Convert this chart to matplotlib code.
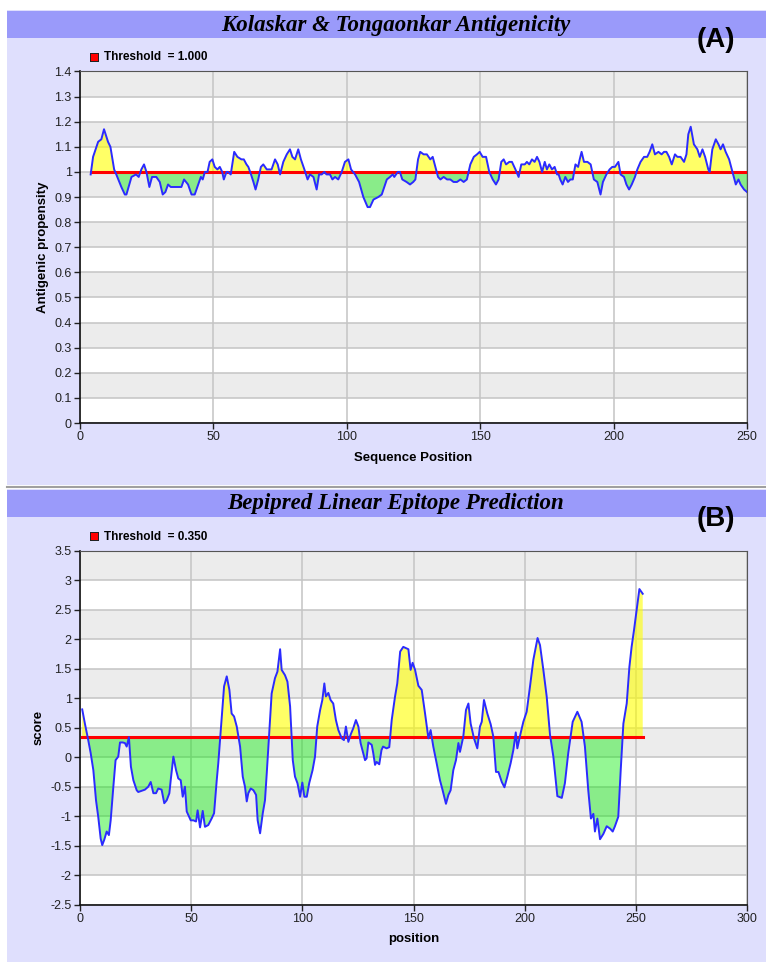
import numpy as np
import matplotlib
matplotlib.use("Agg")
import matplotlib.pyplot as plt
from matplotlib.patches import Rectangle
from matplotlib.ticker import FuncFormatter

W, H = 766, 963

# Kolaskar & Tongaonkar antigenic propensity along the sequence
kt_pos = [4.0, 4.9, 6.8, 8.0, 9.0, 10.5, 11.4, 12.8, 13.6, 15.5, 16.8, 17.4, 19.3, 21.0,
          22.0, 23.0, 24.0, 24.9, 26.0, 27.0, 28.6, 29.9, 31.0, 32.0, 33.0, 34.0, 36.8,
          38.0, 39.0, 40.5, 41.8, 43.0, 44.3, 45.3, 46.0, 46.8, 47.8, 48.6, 49.6, 50.5,
          51.5, 52.4, 53.3, 53.9, 54.9, 55.5, 56.5, 57.8, 59.0, 60.5, 61.4, 62.4, 63.1,
          64.1, 65.0, 65.8, 66.8, 67.8, 68.7, 70.0, 71.8, 73.1, 74.1, 75.0, 76.2, 77.5,
          78.7, 79.6, 80.6, 81.8, 82.8, 84.1, 85.3, 86.2, 87.5, 88.7, 89.6, 90.6, 91.6,
          92.4, 93.7, 94.6, 95.6, 96.8, 98.1, 99.3, 100.6, 101.6, 103.1, 104.6, 106.2,
          107.8, 108.7, 110.0, 111.8, 113.1, 115.0, 116.2, 117.2, 117.8, 119.1, 119.9,
          120.8, 122.4, 123.7, 124.9, 125.7, 126.7, 127.5, 128.8, 130.0, 131.3, 132.2,
          133.2, 134.2, 135.1, 136.3, 137.6, 138.8, 140.0, 141.3, 142.6, 143.8, 145.0,
          146.3, 147.6, 148.8, 149.8, 150.9, 152.2, 153.4, 154.7, 155.9, 156.9, 157.9,
          158.8, 159.7, 160.9, 161.9, 163.2, 164.4, 165.4, 166.7, 167.5, 168.4, 169.4,
          170.4, 171.3, 172.2, 173.2, 174.2, 175.0, 175.9, 176.9, 177.9, 178.8, 179.4,
          180.0, 180.9, 181.9, 182.9, 183.8, 184.7, 185.7, 186.7, 187.3, 188.0, 188.9,
          190.2, 191.4, 192.6, 193.9, 195.1, 196.0, 197.3, 198.5, 199.5, 200.5, 201.8,
          202.6, 203.9, 204.8, 205.8, 206.8, 208.0, 208.9, 210.1, 211.4, 212.6, 213.5,
          214.5, 215.5, 216.8, 218.0, 218.9, 219.8, 220.8, 221.8, 223.0, 223.9, 225.1,
          226.4, 227.3, 228.0, 228.9, 230.1, 231.4, 232.3, 233.3, 234.3, 235.5, 236.0,
          237.0, 238.3, 239.3, 240.1, 241.0, 242.0, 243.3, 244.8, 245.8, 246.8, 247.6,
          248.9, 250.0]
kt_score = [0.99, 1.06, 1.12, 1.13, 1.17, 1.12, 1.10, 1.01, 0.99, 0.94, 0.91, 0.91, 0.98, 0.99,
            0.98, 1.01, 1.03, 1.00, 0.94, 0.98, 0.98, 0.96, 0.91, 0.92, 0.95, 0.94, 0.94,
            0.94, 0.97, 0.95, 0.91, 0.91, 0.95, 0.98, 0.97, 1.00, 1.00, 1.04, 1.05, 1.02,
            1.01, 1.02, 1.00, 0.97, 1.00, 1.00, 0.99, 1.08, 1.06, 1.05, 1.05, 1.03, 1.02,
            0.99, 0.96, 0.93, 0.97, 1.02, 1.03, 1.01, 1.01, 1.05, 1.03, 0.99, 1.04, 1.07,
            1.09, 1.06, 1.05, 1.09, 1.05, 1.01, 0.97, 0.99, 0.98, 0.93, 0.99, 0.99, 1.00,
            0.99, 0.99, 0.97, 0.98, 0.97, 1.00, 1.04, 1.05, 1.01, 0.99, 0.96, 0.90,
            0.86, 0.86, 0.89, 0.90, 0.91, 0.97, 0.98, 0.99, 0.98, 1.00, 1.00,
            0.97, 0.96, 0.95, 0.96, 0.97, 1.05, 1.08, 1.07, 1.07, 1.05, 1.06,
            1.02, 0.98, 0.97, 0.98, 0.97, 0.97, 0.96, 0.96, 0.97, 0.96, 0.97,
            1.03, 1.06, 1.07, 1.08, 1.06, 1.06, 1.00, 0.97, 0.95, 0.97, 1.04,
            1.05, 1.03, 1.04, 1.04, 1.01, 0.98, 1.03, 1.03, 1.04, 1.03, 1.05,
            1.04, 1.06, 1.04, 1.00, 1.04, 1.01, 1.03, 1.01, 1.02, 0.99, 0.99,
            0.97, 0.95, 0.98, 0.96, 0.97, 0.97, 1.03, 1.02, 1.05, 1.08, 1.04,
            1.04, 1.03, 0.97, 0.96, 0.91, 0.96, 0.99, 1.01, 1.02, 1.02, 1.04,
            0.99, 0.98, 0.95, 0.93, 0.95, 0.98, 1.01, 1.04, 1.06, 1.06, 1.08,
            1.11, 1.07, 1.08, 1.07, 1.08, 1.08, 1.06, 1.03, 1.07, 1.06, 1.06,
            1.04, 1.07, 1.15, 1.18, 1.11, 1.09, 1.06, 1.09, 1.06, 1.01, 1.00,
            1.09, 1.13, 1.11, 1.09, 1.11, 1.08, 1.05, 0.99, 0.95, 0.97, 0.95,
            0.93, 0.92]
kt_threshold = 1.0

# Bepipred linear epitope score along the sequence
bp_pos = [1.0, 2.2, 3.7, 4.8, 6.0, 7.2, 8.2, 9.3, 10.0, 10.9, 12.0, 13.0, 13.8, 15.0, 16.0,
          17.2, 18.0, 19.2, 20.2, 21.0, 22.0, 22.9, 24.0, 25.5, 26.2, 27.7, 29.2, 30.7,
          31.8, 33.0, 34.2, 35.2, 36.7, 37.9, 39.0, 40.2, 40.8, 42.0, 43.2, 44.2, 45.3,
          46.2, 47.2, 48.0, 49.8, 51.0, 52.2, 52.9, 54.0, 55.2, 56.2, 57.7, 59.2, 60.3,
          61.5, 62.2, 63.3, 64.8, 66.0, 67.2, 68.2, 69.3, 70.5, 72.0, 73.2, 74.2, 75.0,
          75.7, 76.8, 78.0, 79.2, 79.9, 81.0, 82.2, 83.2, 84.0, 85.0, 86.2, 87.7, 88.8,
          90.0, 90.7, 92.2, 93.3, 94.5, 95.7, 96.7, 97.8, 99.0, 100.0, 100.9, 102.0,
          103.1, 104.6, 105.7, 106.7, 108.0, 109.0, 109.9, 110.6, 111.7, 112.7, 113.9,
          115.1, 116.2, 117.7, 118.7, 119.6, 120.7, 121.7, 122.9, 124.1, 125.2, 126.2,
          127.4, 128.2, 128.9, 129.7, 131.2, 131.9, 132.7, 133.4, 134.6, 135.6, 136.3,
          137.9, 139.1, 140.2, 141.7, 142.7, 144.0, 145.4, 147.7, 148.7, 149.6, 150.7,
          152.2, 153.7, 155.2, 156.7, 157.7, 158.9, 160.4, 161.9, 163.1, 164.6, 165.7,
          166.7, 167.9, 169.1, 170.2, 170.9, 172.4, 173.6, 174.7, 175.7, 177.2, 178.7,
          179.9, 180.7, 181.7, 183.2, 184.7, 185.9, 187.1, 188.2, 189.7, 190.9, 192.2,
          193.7, 194.9, 196.0, 196.7, 197.9, 199.4, 200.9, 202.4, 203.9, 205.8, 206.9,
          208.4, 209.9, 211.4, 212.9, 214.7, 216.7, 218.1, 219.6, 221.6, 223.7, 225.6,
          227.1, 228.6, 229.8, 230.9, 231.6, 232.7, 233.9, 235.4, 236.9, 238.4, 239.6,
          240.6, 242.1, 243.2, 244.4, 245.9, 247.1, 248.1, 249.2, 250.4, 251.6, 253.1]
bp_score = [0.81, 0.57, 0.29, 0.07, -0.22, -0.73, -1.01, -1.38, -1.49, -1.40, -1.26, -1.32,
            -1.07, -0.50, -0.05, 0.01, 0.25, 0.25, 0.24, 0.18, 0.34, -0.16, -0.39, -0.56,
            -0.59, -0.57, -0.55, -0.50, -0.42, -0.61, -0.61, -0.53, -0.55, -0.78, -0.73,
            -0.61, -0.39, 0.01, -0.22, -0.36, -0.39, -0.67, -0.50, -0.92, -1.07, -1.07,
            -1.09, -0.90, -1.19, -0.91, -1.18, -1.15, -1.04, -0.95, -0.39, -0.10, 0.46,
            1.20, 1.37, 1.14, 0.74, 0.69, 0.52, 0.18, -0.33, -0.50, -0.75, -0.61, -0.53,
            -0.56, -0.64, -1.07, -1.29, -0.95, -0.73, -0.27, 0.35, 1.08, 1.34, 1.45, 1.83,
            1.48, 1.39, 1.28, 0.86, -0.05, -0.33, -0.44, -0.67, -0.43, -0.67, -0.67, -0.44,
            -0.22, 0.01, 0.52, 0.80, 0.97, 1.25, 1.03, 1.09, 0.97, 0.91, 0.63, 0.46, 0.32,
            0.29, 0.52, 0.26, 0.38, 0.49, 0.63, 0.52, 0.24, 0.07, -0.05, -0.02, 0.25, 0.21,
            0.07, -0.13, -0.08, -0.12, 0.12, 0.18, 0.15, 0.17, 0.63, 1.03, 1.25, 1.79, 1.87,
            1.83, 1.48, 1.60, 1.48, 1.21, 1.14, 0.74, 0.32, 0.46, 0.18, -0.10, -0.39, -0.56,
            -0.79, -0.64, -0.56, -0.22, -0.05, 0.24, 0.09, 0.35, 0.80, 0.91, 0.57, 0.32,
            0.15, 0.52, 0.60, 0.97, 0.74, 0.56, 0.35, -0.25, -0.25, -0.42, -0.51, -0.33,
            -0.10, 0.12, 0.42, 0.15, 0.36, 0.60, 0.77, 1.20, 1.65, 2.02, 1.90, 1.48, 1.03,
            0.38, 0.01, -0.66, -0.69, -0.44, 0.07, 0.60, 0.77, 0.60, 0.18, -0.56, -1.04,
            -0.96, -1.26, -1.04, -1.39, -1.30, -1.17, -1.21, -1.26, -1.17, -1.01, -0.22,
            0.57, 0.91, 1.53, 1.87, 2.16, 2.50, 2.85, 2.77]
bp_threshold = 0.35

LAVENDER = "#dfdffd"
HEADER = "#9a9afa"
BAND = "#ececec"
GRID = "#c4c4c4"
NARROW = ["Liberation Sans Narrow", "Liberation Sans", "DejaVu Sans"]


def fig_rect(fig, x0, y0, x1, y1, color):
    # rectangle given in pixels from the top-left corner
    fig.add_artist(Rectangle((x0 / W, 1 - y1 / H), (x1 - x0) / W, (y1 - y0) / H,
                             transform=fig.transFigure, facecolor=color,
                             edgecolor="none", zorder=-5))


def fig_text(fig, x, y, s, **kw):
    fig.text(x / W, 1 - y / H, s, **kw)


def panel_frame(fig, top, bottom, title, tag, thr):
    fig_rect(fig, 7, top, W, bottom, LAVENDER)
    fig_rect(fig, 7, top + 1, W, top + 28, HEADER)
    fig_text(fig, 396, top + 15, title, ha="center", va="center", fontsize=16.5,
             family="Liberation Serif", weight="bold", style="italic")
    fig_text(fig, 716, top + 30, tag, ha="center", va="center", fontsize=20,
             family="Liberation Sans", weight="bold")
    # legend swatch for the threshold line
    fig_rect(fig, 90, top + 43, 99, top + 52, "#222222")
    fig_rect(fig, 91, top + 44, 98, top + 51, "#ff0000")
    fig_text(fig, 104, top + 47.5, f"Threshold  = {thr:.3f}", ha="left", va="center",
             fontsize=8.5, family=NARROW, weight="bold")


def profile(fig, box, pos, score, thr, ylim, ystep, xlim, xstep, xlabel, ylabel):
    x0, y0, x1, y1 = box
    ax = fig.add_axes([x0 / W, 1 - y1 / H, (x1 - x0) / W, (y1 - y0) / H])
    pos = np.array(pos)
    score = np.array(score)

    ax.set_xlim(*xlim)
    ax.set_ylim(*ylim)
    nb = int(round((ylim[1] - ylim[0]) / ystep))
    for i in range(nb):
        lo = ylim[0] + i * ystep
        # topmost band is grey, then alternating
        c = BAND if (nb - 1 - i) % 2 == 0 else "white"
        ax.axhspan(lo, lo + ystep, color=c, lw=0, zorder=0.1)
    ax.set_yticks(np.linspace(ylim[0], ylim[1], nb + 1))
    ax.set_xticks(np.arange(xlim[0], xlim[1] + 0.1, xstep))
    ax.grid(True, color=GRID, lw=1.1, zorder=0.5)
    ax.set_axisbelow(True)

    ax.fill_between(pos, score, thr, where=score >= thr, interpolate=True,
                    color="#ffff00", alpha=0.6, lw=0, zorder=2)
    ax.fill_between(pos, score, thr, where=score <= thr, interpolate=True,
                    color="#00ee00", alpha=0.42, lw=0, zorder=2)
    ax.plot([pos[0], pos[-1]], [thr, thr], color="#ff0000", lw=2.2, zorder=3)
    ax.plot(pos, score, color="#2b2bff", lw=1.4, zorder=4)

    fmt = FuncFormatter(lambda v, _: f"{v:g}")
    ax.yaxis.set_major_formatter(fmt)
    ax.tick_params(direction="out", length=4, width=1, labelsize=9, pad=2,
                   colors="#222222")
    for lbl in ax.get_xticklabels() + ax.get_yticklabels():
        lbl.set_family(NARROW)
    for side in ("top", "right"):
        ax.spines[side].set_color("#555555")
    for side in ("left", "bottom"):
        ax.spines[side].set_color("#111111")
        ax.spines[side].set_linewidth(1.2)

    ax.set_xlabel(xlabel, fontsize=9.5, weight="bold", family=NARROW, labelpad=6)
    ax.set_ylabel(ylabel, fontsize=9.5, weight="bold", family=NARROW, labelpad=4)
    return ax


fig = plt.figure(figsize=(W / 100, H / 100), dpi=100)
fig.patch.set_facecolor("white")

panel_frame(fig, 10, 485, "Kolaskar & Tongaonkar Antigenicity", "(A)", kt_threshold)
panel_frame(fig, 489, 962, "Bepipred Linear Epitope Prediction", "(B)", bp_threshold)
fig.add_artist(plt.Line2D([7 / W, 1], [1 - 487 / H, 1 - 487 / H],
                          transform=fig.transFigure, color="#a0a0a0", lw=1.5))

profile(fig, (80, 71.5, 747, 423), kt_pos, kt_score, kt_threshold,
        (0, 1.4), 0.1, (0, 250), 50, "Sequence Position", "Antigenic propensity")
profile(fig, (80, 550.7, 747, 904.7), bp_pos, bp_score, bp_threshold,
        (-2.5, 3.5), 0.5, (0, 300), 50, "position", "score")

fig.savefig("out.png", dpi=100)
